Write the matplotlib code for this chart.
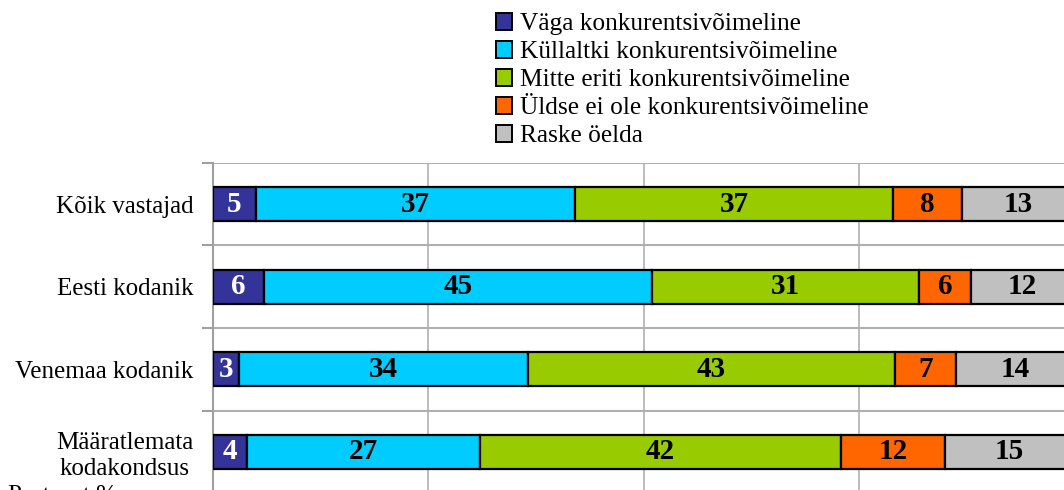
import numpy as np
import matplotlib
matplotlib.use("Agg")
import matplotlib.pyplot as plt
from matplotlib.patches import Patch

categories = ["Kõik vastajad", "Eesti kodanik", "Venemaa kodanik", "Määratlemata\nkodakondsus"]
series = ["Väga konkurentsivõimeline", "Küllaltki konkurentsivõimeline",
          "Mitte eriti konkurentsivõimeline", "Üldse ei ole konkurentsivõimeline",
          "Raske öelda"]
vaga = [5.0, 5.9, 3.0, 3.9]
kullaltki = [37.0, 45.1, 33.6, 27.1]
mitte = [37.0, 31.0, 42.6, 41.9]
uldse = [8.0, 6.0, 7.1, 12.1]
raske = [13.0, 12.0, 13.7, 15.0]
colors = ["#333399", "#00CCFF", "#99CC00", "#FF6600", "#C0C0C0"]
text_colors = ["white", "black", "black", "black", "black"]

serif = ["Liberation Serif", "DejaVu Serif"]
plt.rcParams['font.family'] = serif

fig = plt.figure(figsize=(10.64, 4.9), dpi=100)
ax = fig.add_axes([213 / 1064, -3 / 490, 861 / 1064, 330 / 490])

y = np.arange(len(categories))
left = np.zeros(len(categories))
for vals, name, c, tc in zip([vaga, kullaltki, mitte, uldse, raske], series, colors, text_colors):
    vals = np.array(vals)
    ax.barh(y, vals, left=left, height=0.41, color=c, edgecolor="black", linewidth=1.6, zorder=3)
    for yi, l, v in zip(y, left, vals):
        ax.text(l + v / 2, yi, str(int(round(v))), ha="center", va="center",
                fontsize=21, fontweight="bold", color=tc, zorder=4)
    left += vals

ax.set_xlim(0, 100)
ax.set_ylim(3.5, -0.5)
ax.set_xticks([0, 25, 50, 75, 100])
ax.set_xticklabels([])
ax.tick_params(axis="x", length=0)
ax.set_yticks(y)
ax.set_yticklabels(categories, fontsize=18, multialignment="center")
ax.tick_params(axis="y", which="major", length=0, pad=14)
ax.set_yticks(np.arange(-0.5, 4.0, 1.0), minor=True)
ax.tick_params(axis="y", which="minor", length=8, width=1.5, color="#a0a0a0")
ax.grid(axis="x", which="major", color="#b0b0b0", linewidth=1.2, zorder=0)
ax.grid(axis="y", which="minor", color="#b0b0b0", linewidth=1.5, zorder=0)
for s in ["top", "right", "bottom"]:
    ax.spines[s].set_visible(False)
ax.spines["left"].set_color("#a0a0a0")
ax.spines["left"].set_linewidth(1.5)

handles = [Patch(facecolor=c, edgecolor="black", linewidth=1.4) for c in colors]
fig.legend(handles, series, loc="upper left", bbox_to_anchor=(483 / 1064, 1 - 0 / 490),
           frameon=False, fontsize=18.3, handlelength=0.65, handleheight=0.65,
           handletextpad=0.3, labelspacing=0.22, borderpad=0)

fig.text(8 / 1064, 1 - 485 / 490, "Protsent %", fontsize=18, va="top", ha="left")

fig.savefig("out.png", dpi=100)
